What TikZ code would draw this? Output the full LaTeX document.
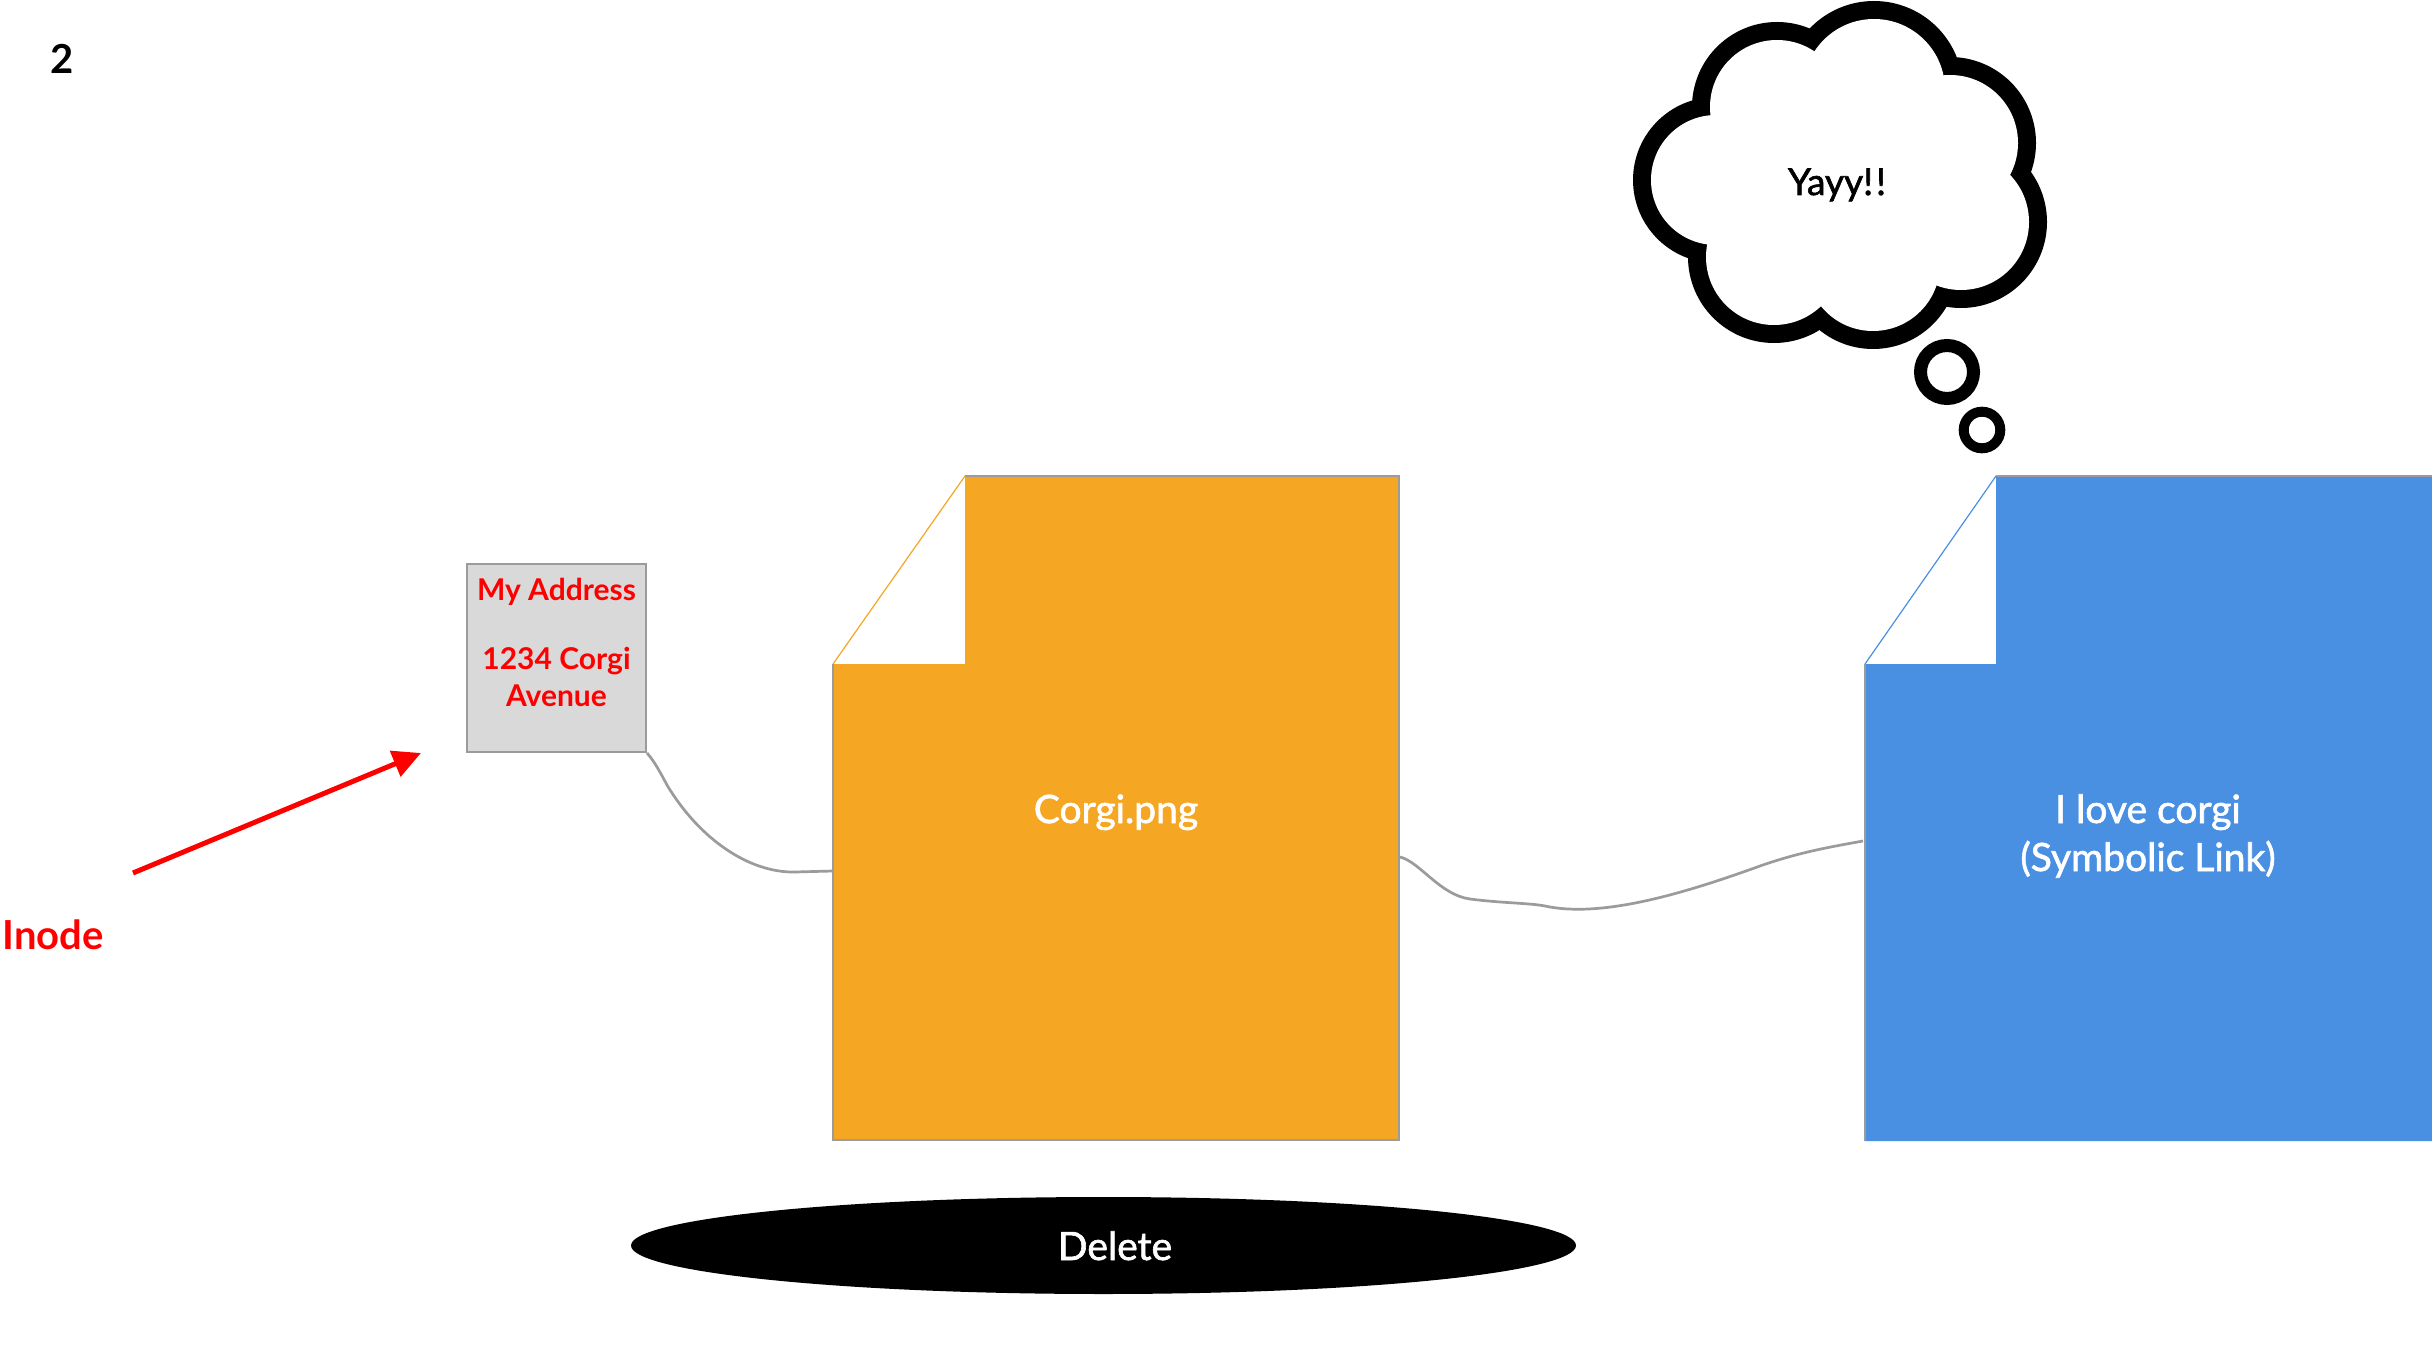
\documentclass[tikz,border=0pt]{standalone}
\usepackage{fontspec}
\setmainfont{Lato}
\newfontfamily\semilato[FakeBold=1.6]{Lato}
\usetikzlibrary{arrows.meta,shapes.geometric}
\definecolor{docorange}{HTML}{F5A623}
\definecolor{docblue}{HTML}{4A90E2}
\definecolor{boxgray}{HTML}{D9D9D9}
\definecolor{linegray}{HTML}{9B9B9B}
\definecolor{inodered}{HTML}{FF0000}
\begin{document}
\begin{tikzpicture}[x=0.5pt,y=-0.5pt,
  docedge/.style={draw=linegray, line width=0.8pt},
  doclabel/.style={text=white, font={\semilato\fontsize{19.5pt}{23pt}\selectfont}, anchor=base, inner sep=0pt},
  addrtext/.style={text=inodered, font={\fontsize{15pt}{18pt}\selectfont\bfseries}, anchor=base, inner sep=0pt},
  bigtext/.style={font={\fontsize{20pt}{24pt}\selectfont\bfseries}, anchor=base west, inner sep=0pt},
  link/.style={draw=linegray, line width=1.35pt},
  puff/.style={draw=black, line width=18pt},
]
\useasboundingbox[fill=white] (0,0) rectangle (2432,1348);

% page number
\node[bigtext] (pagenum) at (50,74) {2};

% thought cloud
\foreach \cx/\cy/\r in {1777/107/67,1874/90/71,1950/143/68,1961/222/68,1873/264/67,1774/257/68,1716/180/65}
  {\draw[puff] (\cx,\cy) circle[radius=\r];}
\foreach \cx/\cy/\r in {1777/107/67,1874/90/71,1950/143/68,1961/222/68,1873/264/67,1774/257/68,1716/180/65}
  {\fill[white] (\cx,\cy) circle[radius=\r];}
\fill[white] (1777,107)--(1874,90)--(1950,143)--(1961,222)--(1873,264)--(1774,257)--(1716,180)--cycle;
\node[font={\semilato\fontsize{18.5pt}{22pt}\selectfont}, anchor=base, inner sep=0pt] (yayy) at (1837,195) {Yayy!\kern1.5pt!};
\draw[black, line width=6.5pt] (1947,372) circle[radius=26.5];
\draw[black, line width=5pt] (1982,430) circle[radius=18.3];

% address box (inode)
\node[draw=linegray, fill=boxgray, line width=1pt, minimum width=89.5pt, minimum height=94pt, inner sep=0pt] (addr) at (556.5,658) {};
\node[addrtext] (addr1) at (556.5,600) {My Address};
\node[addrtext] (addr2) at (556.5,669) {1234 Corgi};
\node[addrtext] (addr3) at (556.5,706) {Avenue};

% Inode label and arrow
\node[bigtext, text=inodered] (inode) at (2,949) {Inode};
\coordinate (arrowtail) at (133,873);
\coordinate (arrowtip) at (421,753);
\draw[inodered, line width=2.5pt, -{Triangle[length=14pt,width=13.5pt]}] (arrowtail) -- (arrowtip);

% orange file
\fill[docorange] (965,476) -- (1399,476) -- (1399,1140) -- (833,1140) -- (833,664) -- (965,664) -- cycle;
\draw[docedge] (965,476) -- (1399,476) -- (1399,1140) -- (833,1140) -- (833,664);
\draw[docorange, line width=0.6pt] (833,664) -- (965,476);
\node[doclabel] (corgi) at (1116,823) {Corgi.png};
\coordinate (orangeleft) at (833,871);
\coordinate (orangeright) at (1400,857);

% blue file
\fill[docblue] (1996,476) -- (2432,476) -- (2432,1141) -- (1865,1141) -- (1865,664) -- (1996,664) -- cycle;
\draw[docedge] (1996,476) -- (2432,476);
\draw[docedge] (1865,664) -- (1865,1141);
\draw[docblue, line width=0.6pt] (1865,664) -- (1996,476);
\node[doclabel] (love) at (2148,823) {I love corgi};
\node[doclabel] (symlink) at (2148,871) {(Symbolic Link)};
\coordinate (blueleft) at (1863,841);

% connectors
\draw[link] (addr.south east) .. controls (655,762) and (661,774) .. (667,785)
  .. controls (700,840) and (750,873) .. (795,872) -- (orangeleft);
\draw[link] (orangeright) .. controls (1420,862) and (1440,895) .. (1470,899)
  .. controls (1500,903) and (1530,903) .. (1545,906)
  .. controls (1600,918) and (1680,895) .. (1760,866)
  .. controls (1800,852) and (1830,847) .. (blueleft);

% delete ellipse
\node[ellipse, fill=black, minimum width=472.5pt, minimum height=48.5pt, inner sep=0pt] (deleteshape) at (1103.5,1245.5) {};
\node[doclabel] (delete) at (1115,1260) {Delete};
\end{tikzpicture}
\end{document}
